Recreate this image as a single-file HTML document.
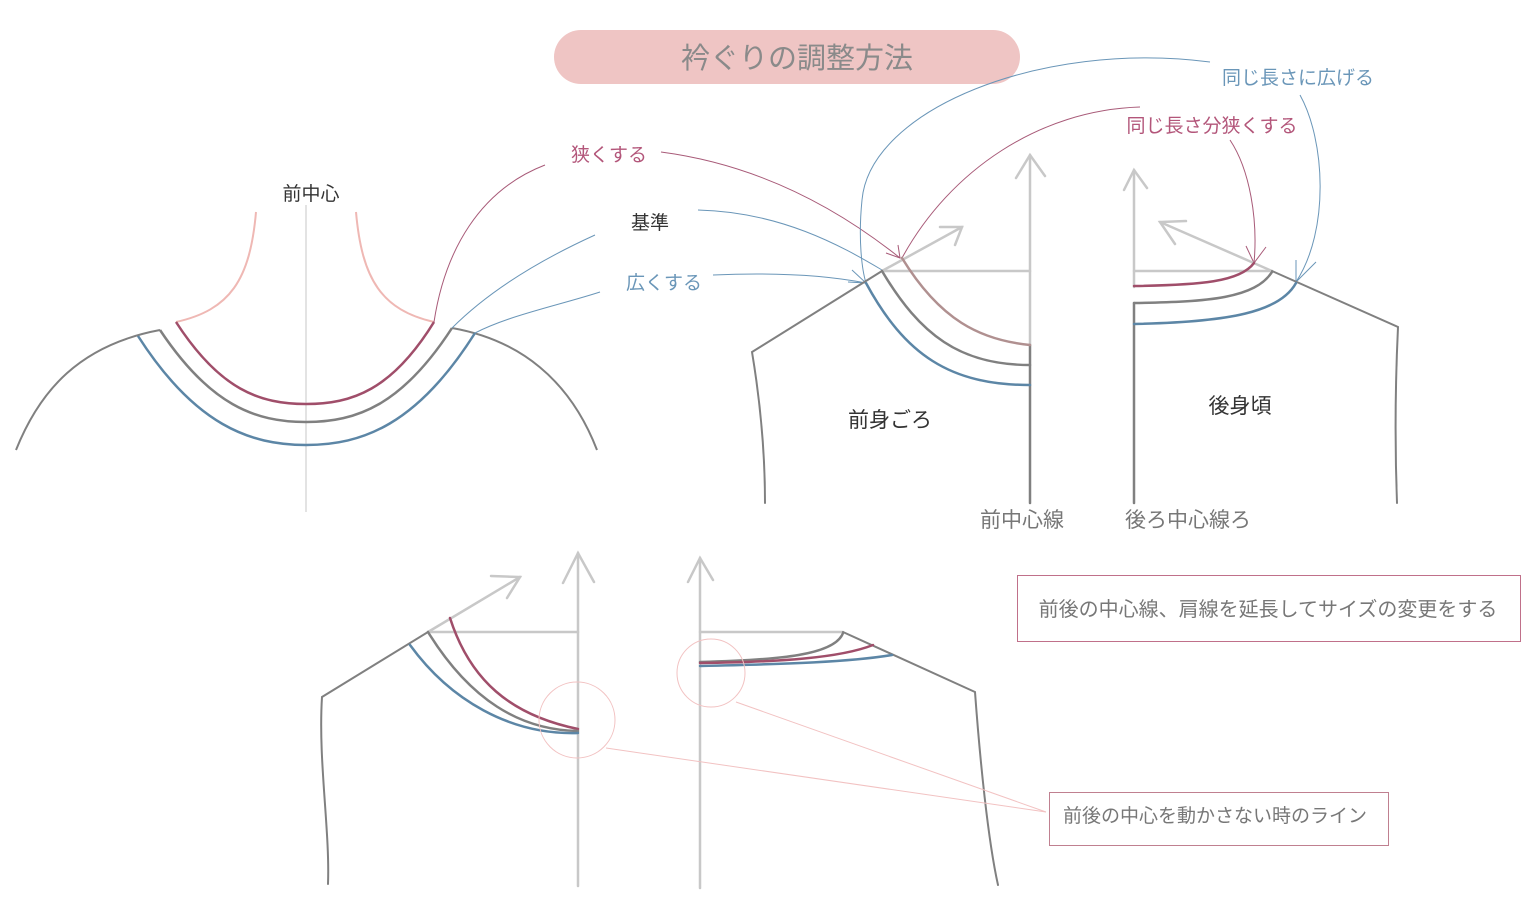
<!DOCTYPE html>
<html><head><meta charset="utf-8"><style>
html,body{margin:0;padding:0;background:#fff;}
svg{display:block;font-family:"Liberation Sans","Noto Sans CJK JP",sans-serif;}
</style></head><body>
<svg width="1536" height="907" viewBox="0 0 1536 907" xmlns="http://www.w3.org/2000/svg">
<rect width="1536" height="907" fill="#fff"/>
<rect x="554" y="30" width="466" height="54" rx="27" fill="#efc5c4"/>
<text x="797" y="68" font-size="29" fill="#8a8a8a" text-anchor="middle">衿ぐりの調整方法</text>

<g fill="none">
<line x1="306" y1="205" x2="306" y2="512" stroke="#d0d0d0" stroke-width="1.2"/>
<path d="M256 212 C250 280 230 310 176 322" stroke="#efb8b4" stroke-width="2"/>
<path d="M356 212 C362 280 382 310 434 322" stroke="#efb8b4" stroke-width="2"/>
<path d="M16 450 C40 390 80 345 160 330" stroke="#808080" stroke-width="2"/>
<path d="M452 328 C520 340 570 380 597 450" stroke="#808080" stroke-width="2"/>
<path d="M176 322 C220 390 260 404 306 404 C352 404 392 390 434 322" stroke="#a04e6a" stroke-width="2.5"/>
<path d="M160 330 C210 405 255 422 306 422 C357 422 402 405 452 328" stroke="#808080" stroke-width="2.5"/>
<path d="M138 336 C195 425 250 445 306 445 C362 445 417 425 475 333" stroke="#5c86a6" stroke-width="2.5"/>
</g>
<text x="311" y="200" font-size="19" fill="#333" text-anchor="middle">前中心</text>

<text x="609" y="161" font-size="19" fill="#b3567a" text-anchor="middle">狭くする</text>
<text x="650" y="229" font-size="19" fill="#333" text-anchor="middle">基準</text>
<text x="664" y="289" font-size="19" fill="#6a96b8" text-anchor="middle">広くする</text>
<g fill="none" stroke-width="1">
<path d="M545 165 C480 190 445 250 434 322" stroke="#a85a78"/>
<path d="M661 152 C760 165 840 210 900 258" stroke="#a85a78"/>
<path d="M595 235 C540 260 490 290 452 328" stroke="#6a96b8"/>
<path d="M698 210 C780 212 840 245 882 270" stroke="#6a96b8"/>
<path d="M600 292 C560 305 510 315 475 333" stroke="#6a96b8"/>
<path d="M713 275 C780 272 830 276 866 283" stroke="#6a96b8"/>
<path d="M1210 62 C1040 40 870 110 862 200 C858 240 862 270 866 283" stroke="#6a96b8"/>
<path d="M1300 95 C1325 140 1330 230 1296 282" stroke="#6a96b8"/>
<path d="M1140 107 C1040 110 950 170 902 258" stroke="#a85a78"/>
<path d="M1230 140 C1250 170 1258 220 1254 263" stroke="#a85a78"/>
<path d="M886 253 L900 258 L898 245" stroke="#a85a78"/>
<path d="M1246 246 L1254 263 L1266 247" stroke="#a85a78"/>
<path d="M848 282 L866 283 L852 270" stroke="#6a96b8"/>
<path d="M1296 260 L1296 282 L1316 262" stroke="#6a96b8"/>
</g>
<text x="1298" y="84" font-size="19" fill="#6a96b8" text-anchor="middle">同じ長さに広げる</text>
<text x="1212" y="132" font-size="19" fill="#b3567a" text-anchor="middle">同じ長さ分狭くする</text>

<g fill="none" stroke-linecap="round">
<line x1="1030" y1="155" x2="1030" y2="345" stroke="#c8c8c8" stroke-width="2.5"/>
<path d="M1016 178 L1030 155 L1045 176" stroke="#c8c8c8" stroke-width="2.5"/>
<line x1="882" y1="271" x2="1030" y2="271" stroke="#c8c8c8" stroke-width="2.5"/>
<line x1="882" y1="271" x2="962" y2="227" stroke="#c8c8c8" stroke-width="2.5"/>
<path d="M940 227 L962 227 L955 245" stroke="#c8c8c8" stroke-width="2.5"/>
<line x1="1030" y1="345" x2="1030" y2="503" stroke="#808080" stroke-width="2.5"/>
<path d="M882 271 L752 352 C760 400 765 450 765 503" stroke="#808080" stroke-width="2"/>
<path d="M902 258 C940 320 980 340 1030 345" stroke="#b09090" stroke-width="2.5"/>
<path d="M882 271 C920 335 960 365 1030 365" stroke="#808080" stroke-width="2.5"/>
<path d="M866 283 C905 355 950 385 1030 385" stroke="#5c86a6" stroke-width="2.5"/>
</g>
<g fill="none" stroke-linecap="round">
<line x1="1134" y1="170" x2="1134" y2="287" stroke="#c8c8c8" stroke-width="2.5"/>
<path d="M1124 190 L1134 170 L1147 188" stroke="#c8c8c8" stroke-width="2.5"/>
<line x1="1134" y1="271" x2="1272" y2="271" stroke="#c8c8c8" stroke-width="2.5"/>
<line x1="1272" y1="271" x2="1160" y2="222" stroke="#c8c8c8" stroke-width="2.5"/>
<path d="M1186 221 L1160 222 L1175 244" stroke="#c8c8c8" stroke-width="2.5"/>
<line x1="1134" y1="303" x2="1134" y2="503" stroke="#808080" stroke-width="2.5"/>
<path d="M1272 271 L1398 327 C1395 390 1395 450 1397 503" stroke="#808080" stroke-width="2"/>
<path d="M1134 286 C1200 285 1240 282 1254 263" stroke="#a04e6a" stroke-width="2.5"/>
<path d="M1134 303 C1210 302 1255 298 1272 272" stroke="#808080" stroke-width="2.5"/>
<path d="M1134 324 C1230 322 1280 312 1296 283" stroke="#5c86a6" stroke-width="2.5"/>
</g>
<text x="890" y="427" font-size="21" fill="#333" text-anchor="middle">前身ごろ</text>
<text x="1240" y="413" font-size="21" fill="#333" text-anchor="middle">後身頃</text>
<text x="1022" y="527" font-size="21" fill="#777" text-anchor="middle">前中心線</text>
<text x="1188" y="527" font-size="21" fill="#777" text-anchor="middle">後ろ中心線ろ</text>

<rect x="1017.5" y="575.5" width="503" height="66" fill="#fff" stroke="#c0708a" stroke-width="1"/>
<text x="1268" y="616" font-size="20" fill="#777" text-anchor="middle">前後の中心線、肩線を延長してサイズの変更をする</text>

<g fill="none" stroke-linecap="round">
<line x1="578" y1="553" x2="578" y2="886" stroke="#c8c8c8" stroke-width="2.5"/>
<path d="M563 583 L578 553 L594 582" stroke="#c8c8c8" stroke-width="2.5"/>
<line x1="428" y1="632" x2="578" y2="632" stroke="#c8c8c8" stroke-width="2.5"/>
<line x1="428" y1="632" x2="520" y2="577" stroke="#c8c8c8" stroke-width="2.5"/>
<path d="M491 576 L520 577 L507 598" stroke="#c8c8c8" stroke-width="2.5"/>
<path d="M428 632 L322 697 C318 760 330 830 328 884" stroke="#808080" stroke-width="2"/>
<path d="M450 618 C470 680 510 715 578 729" stroke="#a04e6a" stroke-width="2.5"/>
<path d="M428 632 C470 700 520 730 578 731" stroke="#808080" stroke-width="2.5"/>
<path d="M410 645 C450 700 510 735 578 733" stroke="#5c86a6" stroke-width="2.5"/>
</g>
<g fill="none" stroke-linecap="round">
<line x1="700" y1="558" x2="700" y2="888" stroke="#c8c8c8" stroke-width="2.5"/>
<path d="M688 582 L700 558 L713 580" stroke="#c8c8c8" stroke-width="2.5"/>
<line x1="700" y1="632" x2="843" y2="632" stroke="#c8c8c8" stroke-width="2.5"/>
<path d="M843 632 L975 692 C980 760 988 840 998 885" stroke="#808080" stroke-width="2"/>
<path d="M700 662 C780 660 835 655 843 633" stroke="#808080" stroke-width="2.5"/>
<path d="M700 663 C780 662 840 658 873 645" stroke="#a04e6a" stroke-width="2.5"/>
<path d="M700 666 C790 664 850 662 892 655" stroke="#5c86a6" stroke-width="2.5"/>
</g>
<g fill="none" stroke="#f2c2c2" stroke-width="1">
<circle cx="577" cy="720" r="38"/>
<circle cx="711" cy="673" r="34"/>
<line x1="606" y1="748" x2="1046" y2="812"/>
<line x1="736" y1="702" x2="1046" y2="812"/>
</g>
<rect x="1049.5" y="792.5" width="339" height="53" fill="#fff" stroke="#c08090" stroke-width="1"/>
<text x="1215" y="822" font-size="19" fill="#777" text-anchor="middle">前後の中心を動かさない時のライン</text>
</svg>
</body></html>
